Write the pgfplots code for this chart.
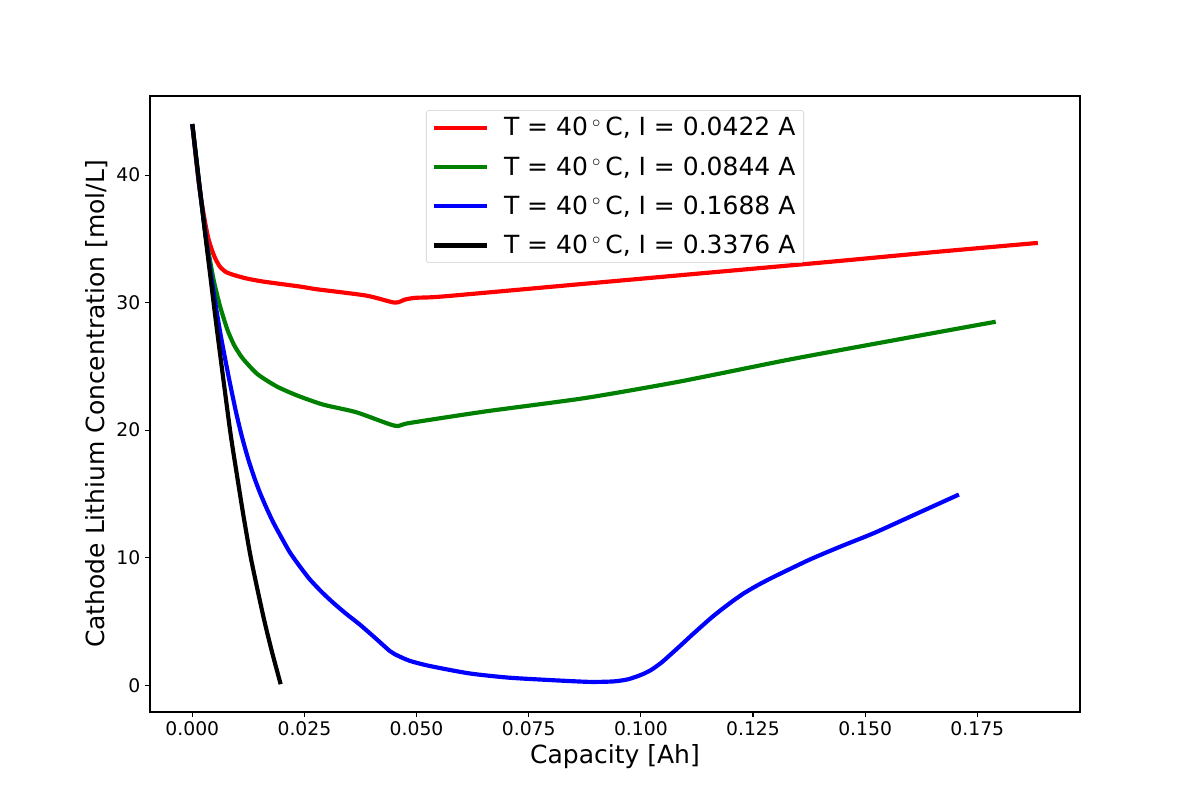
\documentclass[border=0pt]{standalone}
\usepackage{fontspec}
\setmainfont{DejaVu Sans}
\usepackage{pgfplots}
\pgfplotsset{compat=1.18}
\begin{document}
\begin{tikzpicture}
\path[use as bounding box] (-108pt,-63.36pt) rectangle (756pt,512.64pt);
\begin{axis}[
  at={(0pt,0pt)}, anchor=south west,
  scale only axis, width=669.6pt, height=443.52pt,
  xmin=-0.00943, xmax=0.1979, ymin=-2.1, ymax=46.2,
  xtick={0,0.025,0.05,0.075,0.1,0.125,0.15,0.175},
  ytick={0,10,20,30,40},
  xtick pos=left, ytick pos=left,
  tick align=outside, major tick length=3.5pt,
  tick style={line width=0.8pt, black},
  axis line style={line width=0.8pt},
  scaled x ticks=false,
  xticklabel style={/pgf/number format/.cd, fixed, fixed zerofill, precision=3},
  /pgf/number format/assume math mode=true,
  tick label style={font=\fontsize{13.5}{16}\selectfont},
  xlabel={Capacity [Ah]},
  ylabel={Cathode Lithium Concentration [mol/L]},
  label style={font=\fontsize{18}{21}\selectfont},
  xlabel style={at={(axis description cs:0.5,-0.073)}, anchor=center},
  ylabel style={at={(axis description cs:-0.057,0.5)}, anchor=center},
  legend style={at={(0.5,0.977)}, anchor=north, draw=black!20, rounded corners=2pt,
    fill=white, fill opacity=0.8, text opacity=1,
    font=\fontsize{18}{21}\selectfont, inner xsep=4pt, inner ysep=3pt,
    row sep=9.4pt, column sep=9pt, nodes={inner sep=2pt}},
  legend cell align=left,
  legend image code/.code={\draw[#1, line width=3pt] (0pt,0pt) -- (38pt,0pt);},
  every axis plot/.append style={line width=3pt, line join=round, smooth, tension=0.4},
]
\addplot[red] coordinates {
(0,44.0) (0.0015,39.2) (0.0029,36.2) (0.0036,35.0) (0.0044,34.1) (0.0052,33.4)
(0.0062,32.8) (0.0075,32.4) (0.0092,32.17) (0.012,31.9) (0.0158,31.65) (0.024,31.26)
(0.0277,31.05) (0.0388,30.55) (0.0451,30.0) (0.0475,30.25) (0.0499,30.38) (0.0558,30.48)
(0.0847,31.39) (0.1136,32.3) (0.1425,33.21) (0.1666,34.0) (0.1885,34.68)
};
\addlegendentry{T = 40\,$^\circ$\,C, I = 0.0422 A}
\addplot[green!50!black] coordinates {
(0,44.0) (0.0015,39.4) (0.003,35.2) (0.0037,33.8) (0.0048,31.7) (0.0062,29.7)
(0.0078,27.9) (0.0092,26.75) (0.0103,26.1) (0.0114,25.55) (0.0145,24.4) (0.0188,23.43)
(0.0235,22.7) (0.0292,22.0) (0.0366,21.4) (0.0451,20.35) (0.0484,20.56) (0.0654,21.47)
(0.0876,22.52) (0.1088,23.82) (0.1329,25.52) (0.1569,27.08) (0.1791,28.5)
};
\addlegendentry{T = 40\,$^\circ$\,C, I = 0.0844 A}
\addplot[blue] coordinates {
(0,44.0) (0.0015,39.4) (0.003,35.2) (0.0041,32.3) (0.0052,29.8) (0.0063,27.5)
(0.0074,25.45) (0.0085,23.5) (0.0098,21.33) (0.0111,19.44) (0.0125,17.69) (0.0138,16.3)
(0.0151,15.08) (0.0166,13.85) (0.0181,12.73) (0.02,11.5) (0.0218,10.39) (0.024,9.3)
(0.0262,8.3) (0.0288,7.33) (0.0314,6.47) (0.0343,5.6) (0.0373,4.77) (0.0407,3.73)
(0.044,2.69) (0.0452,2.42) (0.0484,1.92) (0.0529,1.51) (0.0617,0.93) (0.0703,0.6)
(0.08,0.4) (0.0886,0.26) (0.094,0.3) (0.0972,0.47) (0.1001,0.82) (0.1022,1.18)
(0.1045,1.75) (0.1066,2.4) (0.1088,3.1) (0.1112,3.88) (0.1136,4.64) (0.116,5.38)
(0.1184,6.05) (0.1208,6.68) (0.1232,7.26) (0.1265,7.93) (0.13,8.56) (0.1377,9.86)
(0.1449,10.93) (0.1521,11.95) (0.1615,13.45) (0.1709,14.95)
};
\addlegendentry{T = 40\,$^\circ$\,C, I = 0.1688 A}
\addplot[black] coordinates {
(0,44.0) (0.0028,35.6) (0.0055,27.87) (0.0084,20.04) (0.0099,16.6) (0.0114,13.3)
(0.0131,9.9) (0.0158,5.45) (0.0177,2.7) (0.0197,0.08)
};
\addlegendentry{T = 40\,$^\circ$\,C, I = 0.3376 A}
\end{axis}
\end{tikzpicture}
\end{document}
